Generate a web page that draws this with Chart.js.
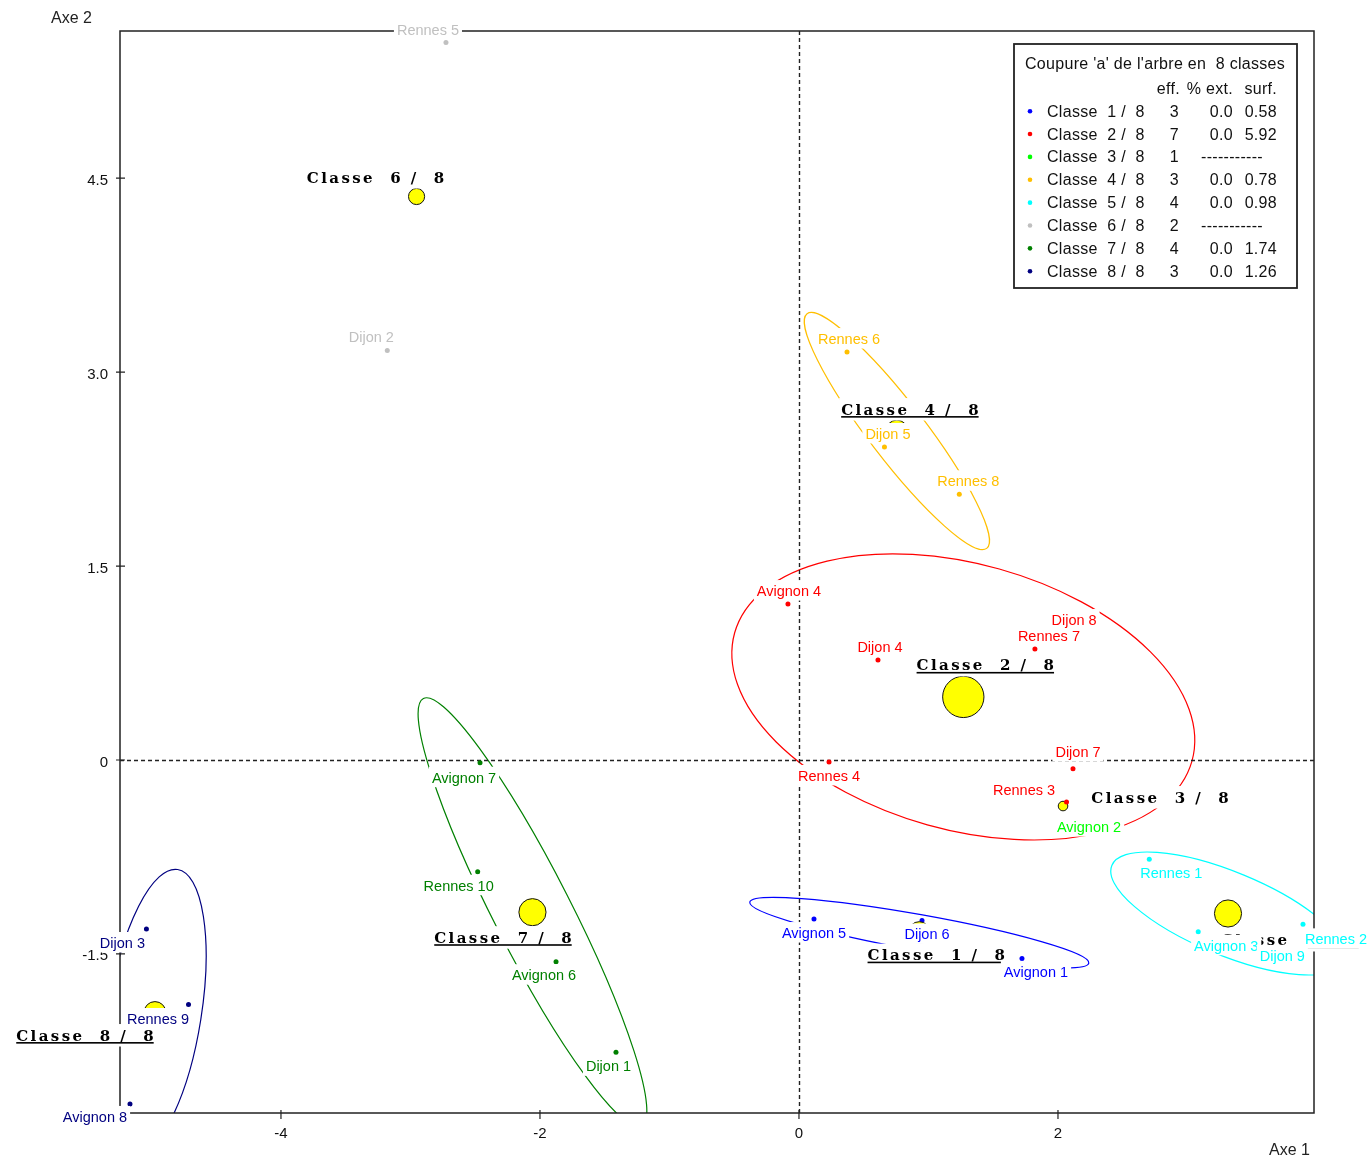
<!DOCTYPE html>
<html>
<head>
<meta charset="utf-8">
<title>Coupure 'a' de l'arbre en 8 classes</title>
<script src="https://cdn.jsdelivr.net/npm/chart.js@4/dist/chart.umd.min.js"></script>
<style>
  html, body { margin: 0; padding: 0; background: #ffffff; }
  #wrap { width: 1370px; height: 1160px; }
</style>
</head>
<body>
<div id="wrap"><canvas id="c" width="1370" height="1160"></canvas></div>
<script>
// ---- Classes ----
const classNames  = ['Classe  1 /  8', 'Classe  2 /  8', 'Classe  3 /  8', 'Classe  4 /  8',
                     'Classe  5 /  8', 'Classe  6 /  8', 'Classe  7 /  8', 'Classe  8 /  8'];
const classCounts = [3, 7, 1, 3, 4, 2, 4, 3];
const classExt    = ['0.0', '0.0', null, '0.0', '0.0', null, '0.0', '0.0'];
const classSurf   = [0.58, 5.92, null, 0.78, 0.98, null, 1.74, 1.26];

// class centres (factorial plane coordinates)
const centreX = [0.929, 1.269, 2.039, 0.756, 3.313, -2.953, -2.058, -4.973];
const centreY = [-1.335, 0.488, -0.356, 2.544, -1.187, 4.358, -1.177, -1.953];

// inertia ellipses: semi-major axis and orientation (degrees); the
// semi-minor axis follows from the surface given in the legend
const ellipseA     = [1.33, 1.834, null, 1.142, 0.971, null, 1.855, 1.12];
const ellipseAngle = [-10.2, -15.7, null, -52.6, -22.5, null, -63, 81];

// ---- Individuals ----
const pointNames = ['Avignon 5', 'Dijon 6', 'Avignon 1',
                    'Avignon 4', 'Dijon 4', 'Rennes 7', 'Dijon 8', 'Dijon 7', 'Rennes 4', 'Rennes 3',
                    'Avignon 2',
                    'Rennes 6', 'Dijon 5', 'Rennes 8',
                    'Rennes 1', 'Avignon 3', 'Rennes 2', 'Dijon 9',
                    'Rennes 5', 'Dijon 2',
                    'Avignon 7', 'Rennes 10', 'Avignon 6', 'Dijon 1',
                    'Dijon 3', 'Rennes 9', 'Avignon 8'];
const pointClass = [0, 0, 0,
                    1, 1, 1, 1, 1, 1, 1,
                    2,
                    3, 3, 3,
                    4, 4, 4, 4,
                    5, 5,
                    6, 6, 6, 6,
                    7, 7, 7];
const pointX = [0.116, 0.950, 1.722,
                -0.085, 0.610, 1.822, 2.124, 2.116, 0.232, 2.066,
                2.039,
                0.371, 0.660, 1.238,
                2.705, 3.083, 3.892, 3.570,
                -2.726, -3.179,
                -2.463, -2.481, -1.876, -1.413,
                -5.039, -4.714, -5.166];
const pointY = [-1.230, -1.241, -1.535,
                1.206, 0.773, 0.858, 0.982, -0.068, -0.015, -0.325,
                -0.356,
                3.155, 2.421, 2.055,
                -0.768, -1.328, -1.271, -1.380,
                5.549, 3.167,
                -0.021, -0.864, -1.560, -2.261,
                -1.307, -1.891, -2.660];

// ---- Axes ----
const xRange = [-5.243, 3.977];
const yRange = [-2.730, 5.638];
const xTicks = [-4, -2, 0, 2];
const xTickLabels = ['-4', '-2', '0', '2'];
const yTicks = [-1.5, 0, 1.5, 3.0, 4.5];
const yTickLabels = ['-1.5', '0', '1.5', '3.0', '4.5'];

// ---- Styling & layout ----
const classColors = ['#0000ff', '#ff0000', '#00ff00', '#ffbf00', '#00ffff', '#c0c0c0', '#008000', '#000080'];
// label centre offsets from each dot, in pixels
const pointLabelOffset = [[0, 14], [5, 14], [14, 13.5],
                          [1, -13], [2, -13], [14, -13], [0, -13], [5, -17], [0, 14], [-42.5, -12],
                          [26, 21],
                          [2, -13], [3.5, -13], [9, -13],
                          [22, 14], [28, 14], [33, 15], [21, 17.5],
                          [-18, -12.5], [-16, -13.5],
                          [-16, 15], [-19, 14], [-12, 13.5], [-7.5, 14],
                          [-24, 14], [-30.5, 14.5], [-35, 13]];
// class title offsets from each class centre, in pixels
const classLabelOffset = [[17, 22], [22, -32], [97, -9], [13, -22], [62, 26.5], [-41, -19.5], [-29.5, 25], [-70, 22.5]];

const SANS = '"Liberation Sans", Arial, sans-serif';
const SERIF = '"DejaVu Serif", "Liberation Serif", serif';

function setSpacing(ctx, v) { if ('letterSpacing' in ctx) ctx.letterSpacing = v; }

function boxedLabel(ctx, text, cx, cy, color, font, spacing, padX, top, bottom, underline) {
  ctx.save();
  ctx.font = font;
  setSpacing(ctx, spacing);
  let w = ctx.measureText(text).width;
  if (spacing !== '0px') w -= parseFloat(spacing);
  const left = cx - w / 2;
  ctx.fillStyle = '#ffffff';
  ctx.fillRect(left - padX, cy - top, w + 2 * padX, top + bottom);
  ctx.fillStyle = color;
  ctx.textAlign = 'left';
  ctx.textBaseline = 'alphabetic';
  const base = underline === null ? cy + 5 : cy + 5.5;
  ctx.fillText(text, left, base);
  if (underline) {
    ctx.fillRect(left, base + 1.5, w, 1.6);
  }
  ctx.restore();
}

const decor = {
  id: 'decor',
  beforeDatasetsDraw(chart) {
    const { ctx, chartArea: a, scales: { x, y } } = chart;
    const sx = x.getPixelForValue(1) - x.getPixelForValue(0);
    const sy = y.getPixelForValue(0) - y.getPixelForValue(1);

    ctx.save();
    ctx.beginPath();
    ctx.rect(a.left, a.top, a.right - a.left, a.bottom - a.top);
    ctx.clip();

    // inertia ellipses
    for (let c = 0; c < classNames.length; c++) {
      if (ellipseA[c] === null) continue;
      const b = classSurf[c] / (Math.PI * ellipseA[c]);
      ctx.save();
      ctx.translate(x.getPixelForValue(centreX[c]), y.getPixelForValue(centreY[c]));
      ctx.scale(sx, -sy);
      ctx.rotate(ellipseAngle[c] * Math.PI / 180);
      ctx.beginPath();
      ctx.ellipse(0, 0, ellipseA[c], b, 0, 0, Math.PI * 2);
      ctx.restore();
      ctx.strokeStyle = classColors[c];
      ctx.lineWidth = 1.2;
      ctx.stroke();
    }

    // dashed origin lines
    const x0 = Math.round(x.getPixelForValue(0)) + 0.5;
    const y0 = Math.round(y.getPixelForValue(0)) + 0.5;
    ctx.setLineDash([4, 3]);
    ctx.strokeStyle = '#222';
    ctx.lineWidth = 1.4;
    ctx.beginPath();
    ctx.moveTo(x0, a.top); ctx.lineTo(x0, a.bottom);
    ctx.moveTo(a.left, y0); ctx.lineTo(a.right, y0);
    ctx.stroke();
    ctx.restore();

    // frame
    ctx.save();
    ctx.strokeStyle = '#222';
    ctx.lineWidth = 1.5;
    ctx.strokeRect(a.left, a.top, a.right - a.left, a.bottom - a.top);

    // ticks
    ctx.lineWidth = 1.2;
    ctx.fillStyle = '#111';
    ctx.font = '15px ' + SANS;
    ctx.beginPath();
    xTicks.forEach((v) => {
      const px = x.getPixelForValue(v);
      ctx.moveTo(px, a.bottom - 3); ctx.lineTo(px, a.bottom + 6);
    });
    yTicks.forEach((v) => {
      const py = y.getPixelForValue(v);
      ctx.moveTo(a.left - 4, py); ctx.lineTo(a.left + 5, py);
    });
    ctx.stroke();
    ctx.textAlign = 'center';
    xTicks.forEach((v, i) => {
      ctx.fillText(xTickLabels[i], x.getPixelForValue(v), a.bottom + 25);
    });
    ctx.textAlign = 'right';
    yTicks.forEach((v, i) => {
      ctx.fillText(yTickLabels[i], a.left - 12, y.getPixelForValue(v) + 6.5);
    });

    // axis titles
    ctx.font = '16px ' + SANS;
    ctx.fillStyle = '#222';
    ctx.textAlign = 'left';
    ctx.fillText('Axe 2', 51, 23);
    ctx.textAlign = 'right';
    ctx.fillText('Axe 1', a.right - 4, a.bottom + 42);
    ctx.restore();
  },

  afterDatasetsDraw(chart) {
    const { ctx, scales: { x, y } } = chart;

    // class titles
    for (let c = 0; c < classNames.length; c++) {
      const cx = x.getPixelForValue(centreX[c]) + classLabelOffset[c][0];
      const cy = y.getPixelForValue(centreY[c]) + classLabelOffset[c][1];
      boxedLabel(ctx, classNames[c], cx, cy, '#000000', 'bold 15px ' + SERIF, '2.4px',
                 2, 11, 11.5, ellipseA[c] !== null);
    }

    // individual names
    for (let i = 0; i < pointNames.length; i++) {
      const c = pointClass[i];
      const cx = x.getPixelForValue(pointX[i]) + pointLabelOffset[i][0];
      const cy = y.getPixelForValue(pointY[i]) + pointLabelOffset[i][1];
      boxedLabel(ctx, pointNames[i], cx, cy, classColors[c], '14.5px ' + SANS, '0px',
                 3, 11, 9.5, null);
    }

    // legend table
    const L = 1014, T = 44, R = 1297, B = 288;
    ctx.save();
    ctx.fillStyle = '#ffffff';
    ctx.fillRect(L, T, R - L, B - T);
    ctx.strokeStyle = '#222';
    ctx.lineWidth = 1.8;
    ctx.strokeRect(L, T, R - L, B - T);
    ctx.fillStyle = '#111';
    ctx.font = '16px ' + SANS;
    setSpacing(ctx, '0.3px');
    ctx.textAlign = 'left';
    ctx.fillText("Coupure 'a' de l'arbre en  8 classes", 1025, 69);
    ctx.textAlign = 'right';
    ctx.fillText('eff.', 1180, 94);
    ctx.fillText('% ext.', 1233, 94);
    ctx.fillText('surf.', 1277, 94);
    for (let c = 0; c < classNames.length; c++) {
      const base = 116.7 + 22.86 * c;
      ctx.fillStyle = classColors[c];
      ctx.beginPath();
      ctx.arc(1030, base - 5.5, 2.3, 0, Math.PI * 2);
      ctx.fill();
      ctx.fillStyle = '#111';
      ctx.textAlign = 'left';
      ctx.fillText(classNames[c], 1047, base);
      ctx.textAlign = 'right';
      ctx.fillText(String(classCounts[c]), 1179, base);
      if (classSurf[c] === null) {
        ctx.textAlign = 'left';
        ctx.fillText('-----------', 1201, base);
      } else {
        ctx.fillText(classExt[c], 1233, base);
        ctx.fillText(classSurf[c].toFixed(2), 1277, base);
      }
    }
    ctx.restore();
  }
};

// ---- Datasets: each class draws its individuals, then its centre on top ----
const datasets = [];
for (let c = 0; c < classNames.length; c++) {
  const pts = [];
  for (let i = 0; i < pointNames.length; i++) {
    if (pointClass[i] === c) pts.push({ x: pointX[i], y: pointY[i] });
  }
  datasets.push({
    label: classNames[c],
    data: pts,
    order: 2 * (c + 1),
    pointRadius: 2.5,
    pointBackgroundColor: classColors[c],
    pointBorderWidth: 0,
    showLine: false,
    clip: false
  });
  datasets.push({
    label: classNames[c] + ' (centre)',
    data: [{ x: centreX[c], y: centreY[c] }],
    order: 2 * (c + 1) - 1,
    // centre size grows with the class headcount
    pointRadius: 4.8 * Math.pow(classCounts[c], 0.75),
    pointBackgroundColor: '#ffff00',
    pointBorderColor: '#111',
    pointBorderWidth: 1,
    showLine: false,
    clip: false
  });
}

new Chart(document.getElementById('c'), {
  type: 'scatter',
  data: { datasets },
  options: {
    responsive: false,
    devicePixelRatio: 1,
    animation: false,
    events: [],
    layout: { padding: { left: 120, top: 31, right: 56, bottom: 47 } },
    scales: {
      x: { type: 'linear', min: xRange[0], max: xRange[1], display: false },
      y: { type: 'linear', min: yRange[0], max: yRange[1], display: false }
    },
    plugins: { legend: { display: false }, tooltip: { enabled: false } }
  },
  plugins: [decor]
});
</script>
</body>
</html>
